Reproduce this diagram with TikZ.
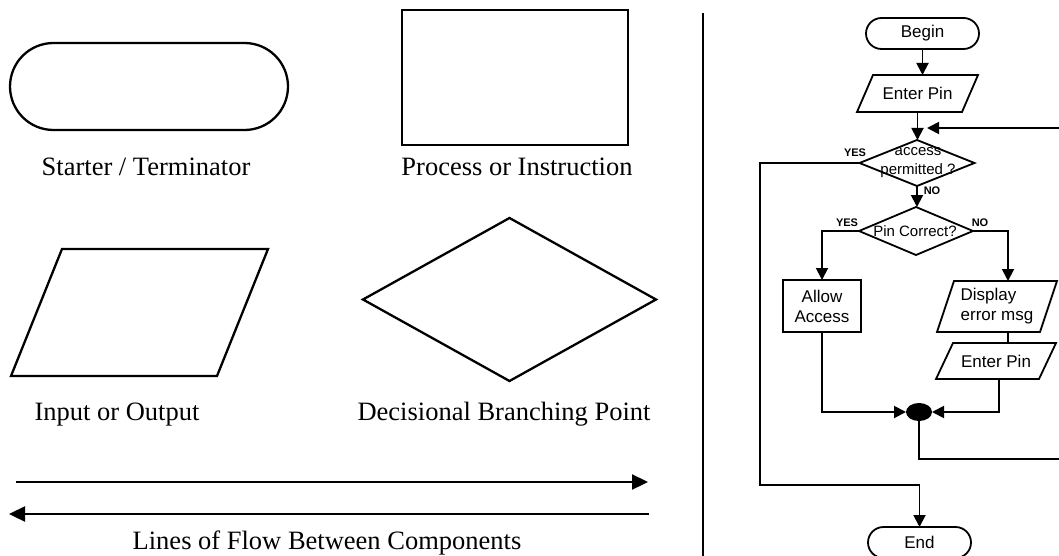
\documentclass[tikz,border=0pt]{standalone}
\usepackage{fontspec}
\setmainfont{Liberation Serif}
\newfontfamily\chartfont{Liberation Sans}
\usetikzlibrary{arrows.meta,shapes.geometric,calc}

% outline of a parallelogram laid over a rectangular node: #1 node, #2 slant, #3 line width
\newcommand\slantoutline[3]{%
  \draw[line width=#3] ($(#1.north west)+(#2,0)$) -- (#1.north east)
    -- ($(#1.south east)-(#2,0)$) -- (#1.south west) -- cycle;}

\begin{document}
\begin{tikzpicture}[x=1pt,y=-1pt,
  symbol/.style={draw, line width=2.3pt, inner sep=0pt, outer sep=0pt},
  caption/.style={font=\fontsize{26.5}{30}\selectfont, anchor=base, inner sep=0pt},
  bigflow/.style={line width=2.3pt, -{Triangle[length=16pt,width=15pt]}},
  chartline/.style={line width=1.9pt},
  flowline/.style={line width=1.9pt, -{Triangle[length=12pt,width=12pt]}},
  boxtext/.style={font=\chartfont\fontsize{17}{20}\selectfont, inner sep=0pt, outer sep=0pt},
  terminal/.style={boxtext, draw, line width=1.8pt, rectangle, rounded corners=15.5pt, minimum height=31pt},
  procbox/.style={boxtext, draw, line width=1.8pt, rectangle, align=center},
  slantbox/.style={boxtext, rectangle},
  decision/.style={draw, line width=1.8pt, diamond, inner sep=0pt, outer sep=0pt},
  dtext/.style={font=\chartfont\fontsize{15}{19}\selectfont, inner sep=0pt, align=center},
  flag/.style={font=\chartfont\bfseries\fontsize{11}{13}\selectfont, inner sep=0pt},
]
\useasboundingbox (0,0) rectangle (1059,556);
\clip (0,0) rectangle (1059,556);

% ---------- legend of symbols ----------
\node[symbol, rectangle, rounded corners=43.5pt, minimum width=278pt, minimum height=87pt] (term) at (149,86.5) {};
\node[caption] (termcap) at (146,175.7) {Starter / Terminator};

\node[symbol, rectangle, line width=2.7pt, minimum width=226pt, minimum height=135pt] (proc) at (515,77.5) {};
\node[caption] (proccap) at (517,175.7) {Process or Instruction};

\node[rectangle, inner sep=0pt, outer sep=0pt, minimum width=257pt, minimum height=127pt] (io) at (139.5,312.5) {};
\slantoutline{io}{51pt}{2.3pt}
\node[caption] (iocap) at (117,420) {Input or Output};

\node[symbol, diamond, minimum width=293pt, minimum height=163pt] (dec) at (509.5,299.5) {};
\node[caption] (deccap) at (504,420) {Decisional Branching Point};

\coordinate (fwdstart) at (16,482);
\coordinate (fwdend) at (648,482);
\draw[bigflow] (fwdstart) -- (fwdend);
\coordinate (backstart) at (649,514);
\coordinate (backend) at (9,514);
\draw[bigflow] (backstart) -- (backend);
\node[caption] (flowcap) at (327,549) {Lines of Flow Between Components};

% ---------- divider ----------
\coordinate (divtop) at (703,13);
\coordinate (divbot) at (703,560);
\draw[line width=1.5pt] (divtop) -- (divbot);

% ---------- PIN example ----------
\node[terminal, minimum width=113pt] (begin) at (922.5,33.5) {Begin};

\node[slantbox, minimum width=121pt, minimum height=37pt] (ep1) at (917.5,93.5) {Enter Pin};
\slantoutline{ep1}{16pt}{1.8pt}

\node[decision, minimum width=115pt, minimum height=46pt] (acc) at (917,163) {};
\node[dtext] (acctext) at (918,162.5) {access\\permitted ?};

\node[decision, minimum width=114pt, minimum height=48pt] (pc) at (916,231) {};
\node[dtext] (pctext) at (915,231.5) {Pin Correct?};

\node[procbox, minimum width=78pt, minimum height=52pt] (allow) at (822,306) {Allow\\Access};

\node[slantbox, align=left, minimum width=120pt, minimum height=51pt] (disp) at (997,306.5) {Display\\error msg};
\slantoutline{disp}{17pt}{1.8pt}

\node[slantbox, minimum width=120pt, minimum height=36pt] (ep2) at (996,361) {Enter Pin};
\slantoutline{ep2}{17pt}{1.8pt}

\node[ellipse, fill, inner sep=0pt, outer sep=0pt, minimum width=26pt, minimum height=18pt] (junc) at (919,412) {};

\node[terminal, minimum width=103pt] (end) at (919.5,542.5) {End};

% branch labels
\node[flag] (yes1) at (855,153) {YES};
\node[flag] (no1) at (932,191) {NO};
\node[flag] (yes2) at (847,223) {YES};
\node[flag] (no2) at (980,223) {NO};

% connectors
\coordinate (yescol) at (760,485);
\coordinate (nocol) at (1008,0);
\coordinate (retcol) at (999,0);
\coordinate (looplow) at (1064,459);
\coordinate (loopin) at (927,128);

\draw[flowline] (begin.south) -- (begin.south |- ep1.north);
\draw[flowline] (ep1.south) -- (ep1.south |- acc.north);
\draw[flowline] (acc.south) -- (acc.south |- pc.north);
\draw[flowline] (acc.west) -| (yescol) -| (end.north);
\draw[flowline] (pc.west) -| (allow.north);
\draw[flowline] (pc.east) -| (nocol |- disp.north);
\draw[chartline] (nocol |- disp.south) -- (nocol |- ep2.north);
\draw[flowline] (retcol |- ep2.south) |- (junc.east);
\draw[flowline] (allow.south) |- (junc.west);
\draw[flowline] (junc.south) |- (looplow) |- (loopin);
\end{tikzpicture}
\end{document}
